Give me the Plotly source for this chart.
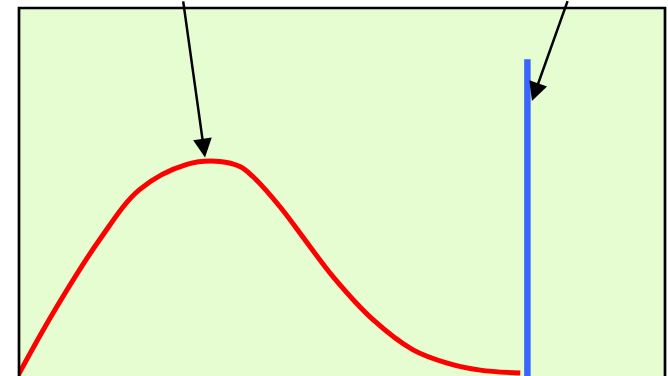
import plotly.graph_objects as go

# Curve values (x in arbitrary units 0..10, y in 0..1)
curve_x = [-0.02, 0.53, 1.25, 1.87, 2.60, 3.11, 3.42, 3.62, 4.04, 4.46, 4.86,
           5.48, 6.10, 6.63, 7.14, 7.76]
curve_y = [0.0, 0.172, 0.371, 0.507, 0.575, 0.583, 0.569, 0.542, 0.460, 0.362, 0.270,
           0.153, 0.071, 0.035, 0.016, 0.008]

# Vertical marker line
marker_x = [7.87, 7.87]
marker_y = [0.861, -0.05]

# Arrow tips (data coords) and tail offsets (pixels)
arrow_tip_x = [2.88, 7.94]
arrow_tip_y = [0.594, 0.747]
arrow_ax = [-22, 36]
arrow_ay = [-157, -101]

fig = go.Figure()
fig.add_trace(go.Scatter(x=curve_x, y=curve_y, mode="lines",
                         line=dict(color="#ff0000", width=5, shape="spline", smoothing=1.0),
                         hoverinfo="skip", showlegend=False))
fig.add_trace(go.Scatter(x=marker_x, y=marker_y, mode="lines",
                         line=dict(color="#3a66ff", width=6.5),
                         hoverinfo="skip", showlegend=False))

for tx, ty, ax, ay in zip(arrow_tip_x, arrow_tip_y, arrow_ax, arrow_ay):
    fig.add_annotation(x=tx, y=ty, xref="x", yref="y", ax=ax, ay=ay,
                       text=" ", font=dict(size=1), borderpad=0,
                       showarrow=True, arrowhead=2, arrowsize=1.5,
                       arrowwidth=2.5, arrowcolor="#000000", standoff=0)

fig.add_shape(type="rect", xref="paper", yref="paper", x0=0, x1=1, y0=-0.3, y1=1,
              line=dict(color="#000000", width=2.7), fillcolor="rgba(0,0,0,0)", layer="above")

fig.update_layout(
    width=668, height=376,
    margin=dict(l=19, r=3, t=8, b=0),
    paper_bgcolor="#ffffff",
    plot_bgcolor="#e6fdd2",
    xaxis=dict(range=[0, 10], visible=False),
    yaxis=dict(range=[0, 1], visible=False),
    showlegend=False,
)

fig.write_html("out.html", config={"displayModeBar": False},
               post_script="document.body.style.margin='0';")
